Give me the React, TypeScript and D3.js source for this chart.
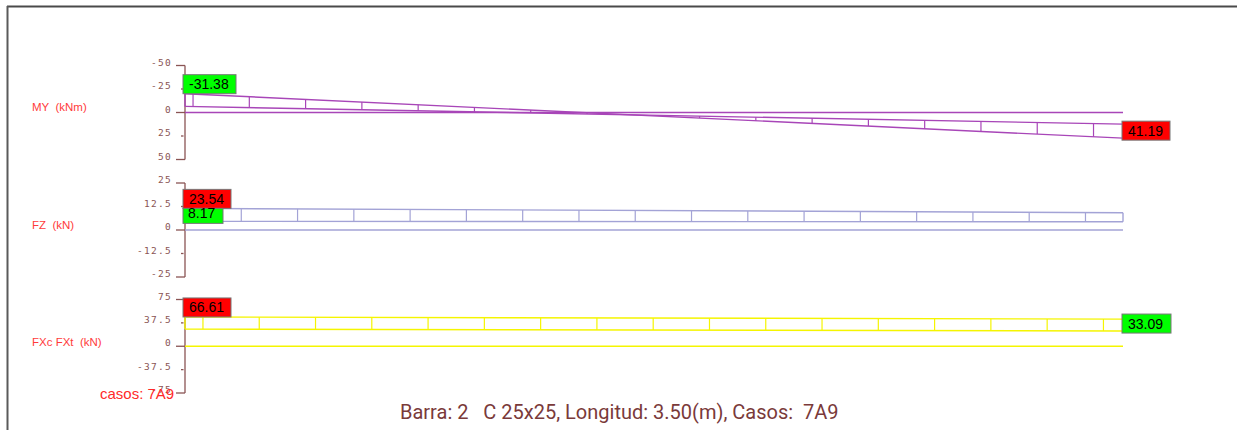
import React from "react";
import * as d3 from "d3";

// ---- data ----
const barLength = 3.5; // m
const stationStep = 0.21; // m, hatch spacing

const panelNames = ["MY  (kNm)", "FZ  (kN)", "FXc FXt  (kN)"];
const myTicks = [-50, -25, 0, 25, 50];
const fzTicks = [25, 12.5, 0, -12.5, -25];
const fxTicks = [75, 37.5, 0, -37.5, -75];

// ribbon edges (axis units) at start / end of the bar
const myRibbonA = [-20, 27.3];
const myRibbonB = [-6.5, 12.4];
const fzRibbonA = [11.5, 9.2];
const fzRibbonB = [4.6, 4.4];
const fxRibbonA = [47, 43.5];
const fxRibbonB = [27.5, 24.5];

const stationOffsets = [0.03, 0.0, 0.067];

const myValues = ["-31.38", "41.19"];
const fzValues = ["23.54", "8.17"];
const fxValues = ["66.61", "33.09"];

const footer = "Barra: 2   C 25x25, Longitud: 3.50(m), Casos:  7A9";
const casos = "casos: 7A9";

const W = 1237;
const H = 430;
const AX = 185;

const x = d3.scaleLinear().domain([0, barLength]).range([AX, 1123]);

type Panel = {
  name: string;
  ticks: number[];
  y: d3.ScaleLinear<number, number>;
  a: number[];
  b: number[];
  color: string;
  offset: number;
  closedEnd: boolean;
  labelY: number;
};

const panels: Panel[] = [
  {
    name: panelNames[0],
    ticks: myTicks,
    y: d3.scaleLinear().domain([-50, 50]).range([65.5, 159.5]),
    a: myRibbonA,
    b: myRibbonB,
    color: "#a846b8",
    offset: stationOffsets[0],
    closedEnd: false,
    labelY: 108,
  },
  {
    name: panelNames[1],
    ticks: fzTicks,
    y: d3.scaleLinear().domain([25, -25]).range([183, 277]),
    a: fzRibbonA,
    b: fzRibbonB,
    color: "#a3a3d6",
    offset: stationOffsets[1],
    closedEnd: true,
    labelY: 226,
  },
  {
    name: panelNames[2],
    ticks: fxTicks,
    y: d3.scaleLinear().domain([75, -75]).range([299.5, 393]),
    a: fxRibbonA,
    b: fxRibbonB,
    color: "#f5f500",
    offset: stationOffsets[2],
    closedEnd: false,
    labelY: 343,
  },
];

const AXIS_COLOR = "#8a5454";

function ValueBox({ x0, y0, text, fill, w }: { x0: number; y0: number; text: string; fill: string; w: number }) {
  return (
    <g>
      <rect x={x0} y={y0} width={w} height={19} fill={fill} stroke="#777" strokeWidth={1} />
      <text x={x0 + 6} y={y0 + 14.5} fontSize={14} fontFamily="Liberation Sans, Arial, sans-serif" fill="#000">
        {text}
      </text>
    </g>
  );
}

function RibbonPanel({ p }: { p: Panel }) {
  const y = p.y;
  const interp = (arr: number[], t: number) => arr[0] + (arr[1] - arr[0]) * (t / barLength);
  const stations = d3.range(p.offset, barLength - 0.05, stationStep);
  const yA0 = y(p.a[0]);
  const yA1 = y(p.a[1]);
  const yB0 = y(p.b[0]);
  const yB1 = y(p.b[1]);
  const tickMajor = (v: number, i: number) => i === 0 || i === p.ticks.length - 1 || v === 0;
  return (
    <g>
      {/* axis */}
      <line x1={AX} x2={AX} y1={y(p.ticks[0])} y2={y(p.ticks[p.ticks.length - 1])} stroke={AXIS_COLOR} strokeWidth={1.3} />
      {p.ticks.map((v, i) => (
        <g key={i}>
          {tickMajor(v, i) ? (
            <line x1={176} x2={AX} y1={y(v)} y2={y(v)} stroke={AXIS_COLOR} strokeWidth={1.3} />
          ) : (
            <line x1={181} x2={183.5} y1={y(v)} y2={y(v)} stroke={AXIS_COLOR} strokeWidth={1.3} />
          )}
          <text
            x={172}
            y={y(v) - 2.5}
            textAnchor="end"
            dominantBaseline="middle"
            fontSize={9.5}
            letterSpacing={1.3}
            fontFamily="DejaVu Sans Mono, monospace"
            fill={AXIS_COLOR}
          >
            {String(v)}
          </text>
        </g>
      ))}
      {/* zero line */}
      <line x1={AX} x2={x(barLength)} y1={y(0)} y2={y(0)} stroke={p.color} strokeWidth={1.5} />
      {/* ribbon */}
      <line x1={x(0)} x2={x(barLength)} y1={yA0} y2={yA1} stroke={p.color} strokeWidth={1.4} />
      <line x1={x(0)} x2={x(barLength)} y1={yB0} y2={yB1} stroke={p.color} strokeWidth={1.4} />
      <line x1={x(0)} x2={x(0)} y1={yA0} y2={yB0} stroke={p.color} strokeWidth={1.4} />
      {p.closedEnd && (
        <line x1={x(barLength)} x2={x(barLength)} y1={yA1} y2={yB1} stroke={p.color} strokeWidth={1.4} />
      )}
      {stations.map((s, i) => (
        <line
          key={i}
          x1={x(s)}
          x2={x(s)}
          y1={y(interp(p.a, s))}
          y2={y(interp(p.b, s))}
          stroke={p.color}
          strokeWidth={1.2}
        />
      ))}
      <text
        x={32}
        y={p.labelY}
        dominantBaseline="middle"
        fontSize={11.5}
        fontFamily="Liberation Sans, Arial, sans-serif"
        fill="#ff3b3b"
        style={{ whiteSpace: "pre" }}
      >
        {p.name}
      </text>
    </g>
  );
}

export default function App() {
  const [my, fz, fx] = panels;
  const myMidR = (my.y(my.a[1]) + my.y(my.b[1])) / 2;
  const fxMidR = (fx.y(fx.a[1]) + fx.y(fx.b[1])) / 2;
  return (
    <svg
      width={W}
      height={H}
      style={{ position: "absolute", left: 0, top: 0, background: "#fff" }}
      xmlSpace="preserve"
    >
      <rect x={0} y={0} width={W} height={H} fill="#fff" />
      {/* frame */}
      <line x1={7} x2={W} y1={6.5} y2={6.5} stroke="#4a4a4a" strokeWidth={2} />
      <line x1={7.5} x2={7.5} y1={6} y2={H} stroke="#5a5a5a" strokeWidth={2} />

      {panels.map((p, i) => (
        <RibbonPanel key={i} p={p} />
      ))}

      {/* value boxes */}
      <ValueBox x0={x(0) - 2} y0={my.y(my.a[0]) - 19} text={myValues[0]} fill="#00ff00" w={53} />
      <ValueBox x0={x(barLength) - 1} y0={myMidR - 10} text={myValues[1]} fill="#ff0000" w={48} />
      <ValueBox x0={x(0) - 2} y0={fz.y(fz.a[0]) - 19} text={fzValues[0]} fill="#ff0000" w={48} />
      <g>
        <rect x={x(0) - 2} y={fz.y(fz.a[0])} width={40} height={15} fill="#00ff00" stroke="#777" strokeWidth={1} />
        <text x={x(0) + 3} y={fz.y(fz.a[0]) + 10} fontSize={14} fontFamily="Liberation Sans, Arial, sans-serif" fill="#000">
          {fzValues[1]}
        </text>
      </g>
      <ValueBox x0={x(0) - 2} y0={fx.y(fx.a[0]) - 19} text={fxValues[0]} fill="#ff0000" w={48} />
      <ValueBox x0={x(barLength) - 1} y0={fxMidR - 11} text={fxValues[1]} fill="#00ff00" w={49} />

      <text x={100} y={395} dominantBaseline="middle" fontSize={15} fontFamily="Liberation Sans, Arial, sans-serif" fill="#ff2a2a">
        {casos}
      </text>
      <text
        x={400}
        y={414}
        dominantBaseline="middle"
        fontSize={20}
        fontFamily="Roboto, Liberation Sans, Arial, sans-serif"
        fill="#7a3a3a"
        style={{ whiteSpace: "pre" }}
      >
        {footer}
      </text>
    </svg>
  );
}
